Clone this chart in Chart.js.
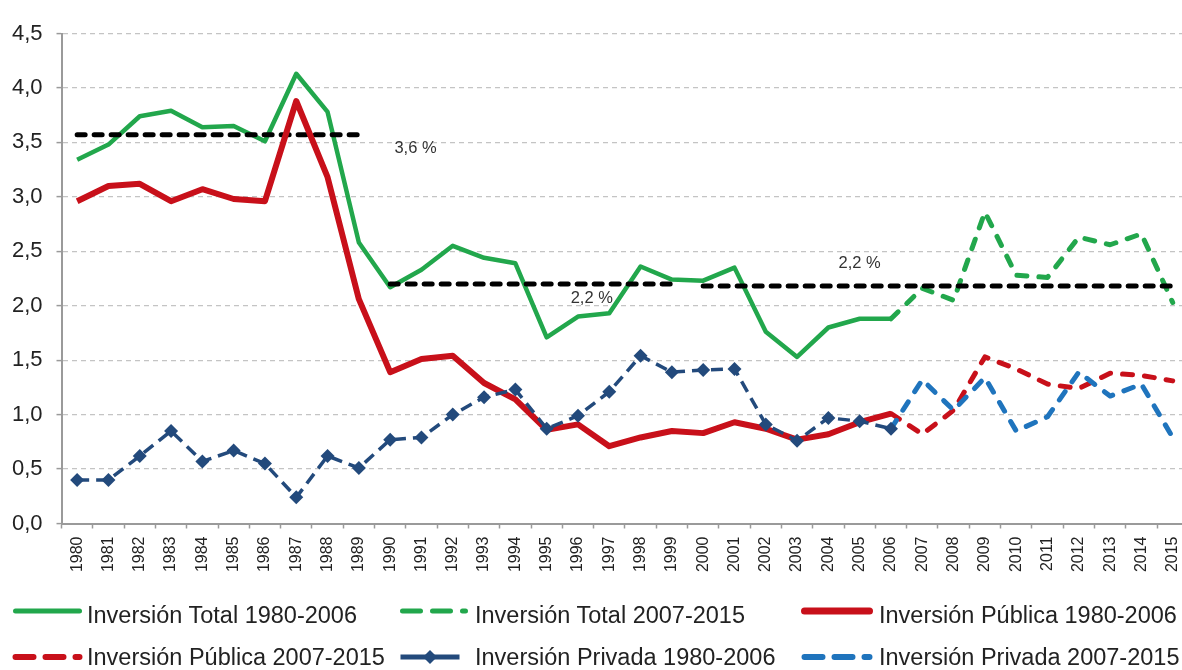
<!DOCTYPE html>
<html><head><meta charset="utf-8">
<script src="https://cdn.jsdelivr.net/npm/chart.js@4.4.1/dist/chart.umd.min.js"></script>
<style>
html,body{margin:0;padding:0;background:#fff;overflow:hidden;width:1182px;height:670px;}
#wrap{position:absolute;left:0;top:0;width:1200px;height:584px;}
#legend{position:absolute;left:0;top:0;width:1182px;height:670px;pointer-events:none;}
</style></head><body>
<div id="wrap"><canvas id="c"></canvas></div>
<svg id="legend" xmlns="http://www.w3.org/2000/svg" width="1182" height="670"></svg>
<script>
// ---- data ----
const years = ['1980','1981','1982','1983','1984','1985','1986','1987','1988','1989',
  '1990','1991','1992','1993','1994','1995','1996','1997','1998','1999',
  '2000','2001','2002','2003','2004','2005','2006','2007','2008','2009',
  '2010','2011','2012','2013','2014','2015'];

// 1980-2006
const totalA   = [3.34,3.48,3.74,3.79,3.64,3.65,3.51,4.13,3.78,2.58,2.17,2.33,2.55,2.44,2.39,1.71,1.90,1.93,2.36,2.24,2.23,2.35,1.76,1.53,1.80,1.88,1.88];
const publicaA = [2.96,3.10,3.12,2.96,3.07,2.98,2.96,3.88,3.18,2.06,1.39,1.51,1.54,1.29,1.14,0.86,0.91,0.71,0.79,0.85,0.83,0.93,0.87,0.77,0.82,0.93,1.01];
const privadaA = [0.40,0.40,0.62,0.85,0.57,0.67,0.55,0.24,0.62,0.51,0.77,0.79,1.00,1.16,1.23,0.87,0.99,1.21,1.54,1.39,1.41,1.42,0.91,0.76,0.97,0.94,0.87];
// 2006 (joining point) - 2015
const totalB   = [1.88,2.16,2.05,2.86,2.28,2.26,2.63,2.56,2.66,2.03];
const publicaB = [1.01,0.82,1.04,1.53,1.42,1.28,1.24,1.38,1.36,1.31];
const privadaB = [0.87,1.32,1.04,1.34,0.85,0.98,1.39,1.17,1.28,0.79];
const startB = '2006';

// period averages
const avgValues = [3.57, 2.20, 2.18];
const avgFrom   = ['1980','1990','2000'];
const avgTo     = ['1989','1999','2015'];
const avgNotes  = ['3,6 %', '2,2 %', '2,2 %'];

const seriesLabels = ['Inversión Total 1980-2006','Inversión Total 2007-2015','Inversión Pública 1980-2006',
  'Inversión Pública 2007-2015','Inversión Privada 1980-2006','Inversión Privada 2007-2015'];

const yTicks = ['0,0','0,5','1,0','1,5','2,0','2,5','3,0','3,5','4,0','4,5'];

// ---- helpers ----
function place(startLabel, vals){
  const out = years.map(()=>null);
  const s = years.indexOf(startLabel);
  vals.forEach((v,i)=>{ out[s+i]=v; });
  return out;
}
function flat(from, to, v){
  const a = years.indexOf(from), b = years.indexOf(to);
  return years.map((y,i)=> (i>=a && i<=b) ? v : null);
}

const GREEN='#22a74c', RED='#c8101a', NAVY='#234a7c', BLUE='#1f74bd', BLACK='#000000';

const base = {pointRadius:0, pointHoverRadius:0, tension:0, spanGaps:false, fill:false, borderJoinStyle:'round'};
const datasets = [
  Object.assign({}, base, {label:seriesLabels[4], data:privadaA, borderColor:NAVY, backgroundColor:NAVY, borderWidth:3.5,
     borderDash:[12,7], pointRadius:7, pointStyle:'rectRot', pointBackgroundColor:NAVY, pointBorderColor:NAVY, pointBorderWidth:0, order:1}),
  Object.assign({}, base, {label:seriesLabels[5], data:place(startB, privadaB), borderColor:BLUE, borderWidth:5,
     borderDash:[10,12], borderCapStyle:'round', order:1}),
  Object.assign({}, base, {label:seriesLabels[2], data:publicaA, borderColor:RED, borderWidth:6, order:2}),
  Object.assign({}, base, {label:seriesLabels[3], data:place(startB, publicaB), borderColor:RED, borderWidth:5,
     borderDash:[10,12], borderCapStyle:'round', order:2}),
  Object.assign({}, base, {label:seriesLabels[0], data:totalA, borderColor:GREEN, borderWidth:4.5, order:4}),
  Object.assign({}, base, {label:seriesLabels[1], data:place(startB, totalB), borderColor:GREEN, borderWidth:5,
     borderDash:[10,12], borderCapStyle:'round', order:4}),
];
avgValues.forEach((v,i)=>{
  datasets.push(Object.assign({}, base, {label:'Promedio '+avgNotes[i], data:flat(avgFrom[i], avgTo[i], v), borderColor:BLACK,
     borderWidth:5, borderDash:[8,9], borderCapStyle:'round', order:3}));
});

// annotation placement (category index, value)
const notePos = [{i:10.81, v:3.44}, {i:16.44, v:2.07}, {i:25.0, v:2.39}];

const notesPlugin = {
  id:'notes',
  afterDatasetsDraw(chart){
    const {ctx, scales:{x,y}} = chart;
    ctx.save();
    ctx.font = '16.5px "Liberation Sans", Arial, sans-serif';
    ctx.fillStyle = '#333';
    ctx.textAlign = 'center';
    ctx.textBaseline = 'middle';
    avgNotes.forEach((t,k)=>{
      ctx.fillText(t, x.getPixelForValue(notePos[k].i), y.getPixelForValue(notePos[k].v));
    });
    ctx.restore();
  }
};

new Chart(document.getElementById('c'), {
  type:'line',
  data:{labels:years, datasets},
  plugins:[notesPlugin],
  options:{
    responsive:true, maintainAspectRatio:false, animation:false, events:[],
    layout:{padding:{top:33.5, right:7, bottom:0, left:0}},
    plugins:{legend:{display:false}, tooltip:{enabled:false}},
    scales:{
      x:{
        type:'category', offset:true,
        grid:{display:true, drawOnChartArea:false, drawTicks:true, tickLength:5, offset:true, color:'#9a9a9a', tickColor:'#9a9a9a', tickWidth:1.5},
        border:{display:true, color:'#9a9a9a', width:2},
        ticks:{autoSkip:false, maxRotation:90, minRotation:90, padding:8, color:'#222',
               font:{family:'"Liberation Sans", Arial, sans-serif', size:16}},
        afterFit(s){ s.height = 60.5; }
      },
      y:{
        min:0, max:4.5,
        grid:{color:'#c4c4c4', lineWidth:1.2, drawTicks:true, tickLength:5, tickColor:'#9a9a9a', tickWidth:1.5, tickBorderDash:[]},
        border:{display:true, color:'#9a9a9a', width:2, dash:[5,4]},
        ticks:{stepSize:0.5, padding:14, color:'#222',
               font:{family:'"Liberation Sans", Arial, sans-serif', size:22},
               callback:(v)=> yTicks[Math.round(v*2)]},
        afterFit(s){ s.width = 61.5; }
      }
    }
  }
});

// ---- legend (SVG, real text) ----
const svg = document.getElementById('legend');
const NS = 'http://www.w3.org/2000/svg';
const legendCols = [{sx1:15.5, sx2:79.5, tx:87}, {sx1:402.5, sx2:465.5, tx:475}, {sx1:804.5, sx2:869.5, tx:879}];
const legendRows = [{ly:611, ty:623}, {ly:657, ty:665}];
const legendOrder = [
  {lab:0, color:GREEN, w:5, dash:null},
  {lab:1, color:GREEN, w:5, dash:'18 12'},
  {lab:2, color:RED, w:7, dash:null},
  {lab:3, color:RED, w:6, dash:'18 12'},
  {lab:4, color:NAVY, w:5, dash:null, diamond:true},
  {lab:5, color:BLUE, w:6, dash:'18 12'}
];
legendOrder.forEach((it,k)=>{
  const c = legendCols[k%3], r = legendRows[Math.floor(k/3)];
  const ln = document.createElementNS(NS,'line');
  ln.setAttribute('x1', c.sx1); ln.setAttribute('x2', c.sx2);
  ln.setAttribute('y1', r.ly); ln.setAttribute('y2', r.ly);
  ln.setAttribute('stroke', it.color); ln.setAttribute('stroke-width', it.w);
  ln.setAttribute('stroke-linecap', it.diamond ? 'butt' : 'round');
  if (it.dash) ln.setAttribute('stroke-dasharray', it.dash);
  if (it.diamond){ ln.setAttribute('x1', c.sx1-2); ln.setAttribute('x2', c.sx2-6); }
  svg.appendChild(ln);
  if (it.diamond){
    const cx = (c.sx1 + c.sx2 - 8)/2, cy = r.ly, s = 7;
    const p = document.createElementNS(NS,'polygon');
    p.setAttribute('points', `${cx},${cy-s} ${cx+s},${cy} ${cx},${cy+s} ${cx-s},${cy}`);
    p.setAttribute('fill', it.color);
    svg.appendChild(p);
  }
  const t = document.createElementNS(NS,'text');
  t.setAttribute('x', c.tx); t.setAttribute('y', r.ty);
  t.setAttribute('font-family', '"Liberation Sans", Arial, sans-serif');
  t.setAttribute('font-size', '23.5');
  t.setAttribute('fill', '#222');
  t.textContent = seriesLabels[it.lab];
  svg.appendChild(t);
});
</script>
</body></html>
